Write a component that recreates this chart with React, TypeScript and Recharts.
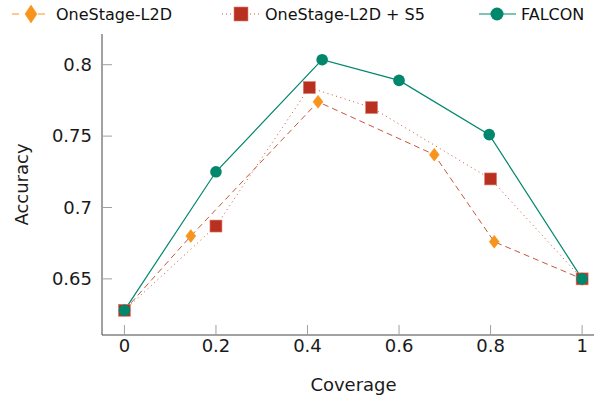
import React from 'react';
import { Legend, Line, LineChart, XAxis, YAxis } from 'recharts';

// values
const coverageL2D = [0, 0.145, 0.423, 0.677, 0.808, 1];
const accuracyL2D = [0.628, 0.68, 0.774, 0.737, 0.676, 0.65];
const coverageS5 = [0, 0.2, 0.404, 0.54, 0.8, 1];
const accuracyS5 = [0.628, 0.687, 0.784, 0.77, 0.72, 0.65];
const coverageFalcon = [0, 0.2, 0.432, 0.6, 0.797, 1];
const accuracyFalcon = [0.628, 0.725, 0.8035, 0.789, 0.751, 0.65];

const xTicks = [0, 0.2, 0.4, 0.6, 0.8, 1];
const yTicks = [0.65, 0.7, 0.75, 0.8];
const seriesNames = ['OneStage-L2D', 'OneStage-L2D + S5', 'FALCON'];

const toPoints = (xs: number[], ys: number[]) => xs.map((x, i) => ({ x, y: ys[i] }));
const l2d = toPoints(coverageL2D, accuracyL2D);
const s5 = toPoints(coverageS5, accuracyS5);
const falcon = toPoints(coverageFalcon, accuracyFalcon);

const ORANGE = '#f7941d';
const RED = '#b83020';
const RED_LINE = '#c8553d';
const TEAL = '#00876c';
const FONT = 'DejaVu Sans';

const Diamond = ({ cx, cy, w = 5, h = 6.5 }: any) => (
  <path d={`M${cx},${cy - h}L${cx + w},${cy}L${cx},${cy + h}L${cx - w},${cy}Z`} fill={ORANGE} stroke={ORANGE} strokeWidth={0.5} />
);
const Square = ({ cx, cy, s = 6 }: any) => (
  <rect x={cx - s} y={cy - s} width={s * 2} height={s * 2} fill={RED} stroke="#e08070" strokeWidth={0.6} />
);
const Dot = ({ cx, cy, r = 5.8 }: any) => <circle cx={cx} cy={cy} r={r} fill={TEAL} />;

const Empty = () => <g />;

function LegendRow() {
  const y = 14;
  return (
    <svg width={594} height={30} style={{ display: 'block' }}>
      <g fontFamily={FONT} fontSize={16} fill="#111">
        <line x1={12} x2={19} y1={y} y2={y} stroke={ORANGE} />
        <line x1={38} x2={45} y1={y} y2={y} stroke={ORANGE} />
        <Diamond cx={31} cy={y} w={6} h={9} />
        <text x={56} y={y + 6}>{seriesNames[0]}</text>

        <line x1={222} x2={260} y1={y} y2={y} stroke={RED_LINE} strokeDasharray="1 3" />
        <Square cx={241} cy={y} s={7} />
        <text x={265} y={y + 6}>{seriesNames[1]}</text>

        <line x1={479} x2={516} y1={y} y2={y} stroke={TEAL} strokeWidth={1.2} />
        <Dot cx={497} cy={y} r={6.5} />
        <text x={521} y={y + 6}>{seriesNames[2]}</text>
      </g>
    </svg>
  );
}

export default function App() {
  const tickStyle = { fontSize: 18, fill: '#1a1a1a', fontFamily: FONT };
  return (
    <div style={{ position: 'absolute', left: 0, top: 0, width: 594, height: 402, overflow: 'hidden', background: '#fff' }}>
      <LineChart width={610} height={402} margin={{ top: 34, right: 5, bottom: 0, left: 0 }} style={{ fontFamily: FONT }}>
        <XAxis
          xAxisId={0}
          dataKey="x"
          type="number"
          domain={[-0.049, 1.05]}
          ticks={xTicks}
          allowDataOverflow
          height={67}
          tickSize={-10}
          tickMargin={14}
          tick={tickStyle}
          tickLine={{ stroke: '#a0a0a0' }}
          axisLine={{ stroke: '#444' }}
          label={{ value: 'Coverage', position: 'insideBottom', offset: 11, style: { fontSize: 18, fill: '#1a1a1a', fontFamily: FONT } }}
        />
        <XAxis
          xAxisId="top"
          orientation="top"
          dataKey="x"
          type="number"
          domain={[-0.049, 1.05]}
          ticks={xTicks}
          allowDataOverflow
          height={0}
          tickSize={-10}
          tick={<Empty />}
          tickLine={{ stroke: '#a0a0a0' }}
          axisLine={{ stroke: '#444' }}
        />
        <YAxis
          yAxisId={0}
          type="number"
          domain={[0.6107, 0.8215]}
          ticks={yTicks}
          allowDataOverflow
          width={102}
          tickSize={-10}
          tickMargin={20}
          tick={tickStyle}
          tickLine={{ stroke: '#a0a0a0' }}
          axisLine={{ stroke: '#444' }}
          label={{ value: 'Accuracy', angle: -90, position: 'insideLeft', offset: 22, style: { fontSize: 18, fill: '#1a1a1a', fontFamily: FONT, textAnchor: 'middle' } }}
        />
        <YAxis
          yAxisId="right"
          orientation="right"
          type="number"
          domain={[0.6107, 0.8215]}
          ticks={yTicks}
          allowDataOverflow
          width={0}
          tickSize={-10}
          tick={<Empty />}
          tickLine={{ stroke: '#a0a0a0' }}
          axisLine={{ stroke: '#444' }}
        />
        <Legend
          layout="horizontal"
          verticalAlign="middle"
          align="center"
          wrapperStyle={{ top: 0, left: 0, width: 594 }}
          content={() => <LegendRow />}
        />
        <Line
          data={l2d}
          dataKey="y"
          name={seriesNames[0]}
          stroke={RED_LINE}
          strokeWidth={1}
          strokeDasharray="6 4"
          isAnimationActive={false}
          dot={(p: any) => <Diamond key={`d${p.index}`} cx={p.cx} cy={p.cy} />}
        />
        <Line
          data={s5}
          dataKey="y"
          name={seriesNames[1]}
          stroke={RED_LINE}
          strokeWidth={1}
          strokeDasharray="1 3.5"
          isAnimationActive={false}
          dot={(p: any) => <Square key={`s${p.index}`} cx={p.cx} cy={p.cy} />}
        />
        <Line
          data={falcon}
          dataKey="y"
          name={seriesNames[2]}
          stroke={TEAL}
          strokeWidth={1.2}
          isAnimationActive={false}
          dot={(p: any) => <Dot key={`f${p.index}`} cx={p.cx} cy={p.cy} />}
        />
      </LineChart>
    </div>
  );
}
